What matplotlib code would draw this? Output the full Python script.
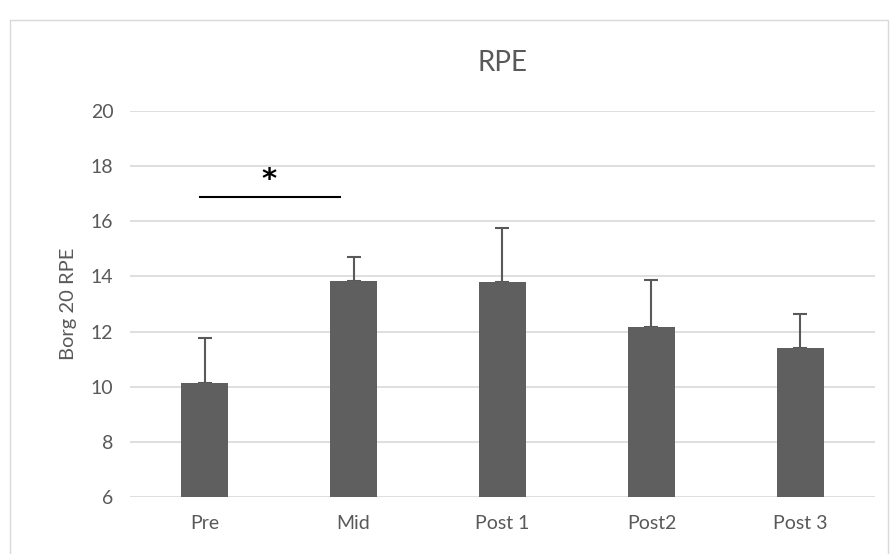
import matplotlib
matplotlib.use("Agg")
import matplotlib.pyplot as plt
from matplotlib.patches import Rectangle

categories = ["Pre", "Mid", "Post 1", "Post2", "Post 3"]
means = [10.12, 13.85, 13.81, 12.17, 11.39]
errors = [1.66, 0.84, 1.96, 1.70, 1.23]
sig_span = (-0.03, 0.91)
sig_y = 16.88
sig_label = "*"

plt.rcParams['font.family'] = ['Lato', 'DejaVu Sans']
text_col = "#595959"
bar_col = "#5f5f5f"
grid_col = "#d9d9d9"

fig = plt.figure(figsize=(8.93, 5.54), dpi=100)
fig.patches.append(Rectangle((10/893, -0.01), 878/893, 1 - 20/554 + 0.01,
                             transform=fig.transFigure, fill=False,
                             edgecolor="#d9d9d9", lw=1))
ax = fig.add_axes([130/893, 1 - 497/554, 745/893, (497 - 111)/554])
x = list(range(len(categories)))
ax.bar(x, [m - 6 for m in means], bottom=6, width=0.31, color=bar_col, zorder=3)
ax.errorbar(x, means, yerr=[[0]*len(errors), errors], fmt="none", ecolor=text_col,
            elinewidth=1.5, capsize=5, capthick=1.5, zorder=2)
ax.set_xlim(-0.5, 4.5)
ax.set_ylim(6, 20)
ax.set_yticks(range(6, 21, 2))
ax.set_xticks(x)
ax.set_xticklabels(categories)
ax.yaxis.grid(True, color=grid_col, lw=1.2, zorder=0)
ax.set_axisbelow(True)
for s in ax.spines.values():
    s.set_visible(False)
ax.tick_params(length=0, labelsize=14, labelcolor=text_col)
ax.tick_params(axis="x", pad=13)
ax.tick_params(axis="y", pad=12)
ax.set_ylabel("Borg 20 RPE", fontsize=14.5, color=text_col, labelpad=10)
ax.set_title("RPE", fontsize=20, color=text_col, pad=29)
ax.plot(sig_span, [sig_y, sig_y], color="black", lw=1.5, clip_on=False, zorder=5)
ax.text(sum(sig_span)/2 - 0.01, sig_y + 0.12, sig_label, ha="center", va="bottom",
        fontsize=21, color="black", fontweight="bold", family="DejaVu Sans")
fig.savefig("out.png", dpi=100)
